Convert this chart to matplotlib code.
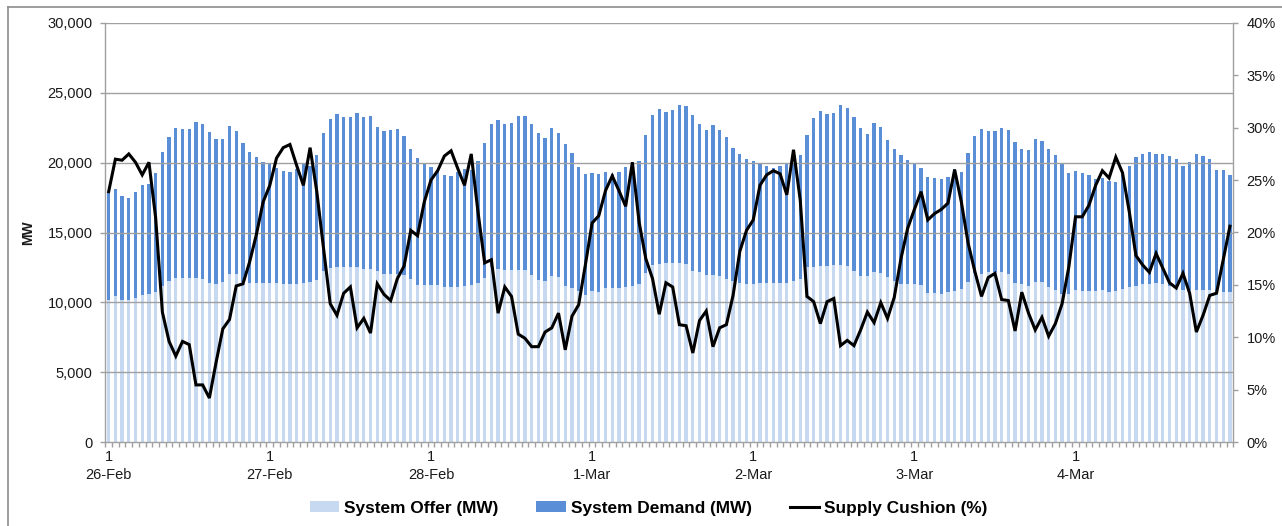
import matplotlib
matplotlib.use('Agg')
import matplotlib.pyplot as plt
import numpy as np
from matplotlib.lines import Line2D
from matplotlib.patches import Patch
from matplotlib.ticker import FuncFormatter

plt.rcParams['font.family'] = ['Liberation Sans', 'DejaVu Sans']

# ---------------- data ----------------
days = ['26-Feb', '27-Feb', '28-Feb', '1-Mar', '2-Mar', '3-Mar', '4-Mar']
hour_label = '1'

# light bars (System Offer, MW)
offer_mw = [
    10200, 10450, 10150, 10150, 10300, 10500, 10600, 10750, 11150, 11500, 11750, 11750,
    11750, 11750, 11700, 11370, 11300, 11480, 12050, 12000, 11450, 11360, 11380, 11380,
    11370, 11370, 11300, 11300, 11310, 11380, 11480, 11570, 12250, 12450, 12520, 12530,
    12550, 12520, 12400, 12380, 12230, 12030, 12000, 12000, 11980, 11650, 11265, 11265,
    11260, 11260, 11120, 11070, 11070, 11190, 11238, 11357, 11714, 12500, 12381, 12333,
    12333, 12333, 12333, 11976, 11595, 11500, 11905, 11833, 11190, 11024, 10833, 10548,
    10786, 10738, 11024, 11024, 11024, 11071, 11190, 11310, 12071, 12690, 12730, 12810,
    12786, 12810, 12738, 12262, 12143, 11976, 11952, 11857, 11667, 11548, 11357, 11310,
    11310, 11357, 11357, 11357, 11357, 11381, 11500, 11667, 12500, 12548, 12619, 12619,
    12667, 12690, 12619, 12262, 11905, 11857, 12143, 12095, 11786, 11548, 11310, 11310,
    11310, 11238, 10667, 10667, 10595, 10714, 10786, 10952, 11476, 12071, 12024, 12143,
    12143, 12143, 12024, 11381, 11310, 11180, 11476, 11429, 11119, 10881, 10595, 10595,
    10905, 10833, 10833, 10833, 10905, 10714, 10786, 10976, 11119, 11190, 11310, 11310,
    11357, 11310, 11190, 11119, 10905, 10881, 10905, 10881, 10881, 10714, 10714, 10714,
]

# top of the dark bars (System Demand, MW)
demand_top_mw = [
    17930, 18100, 17620, 17500, 17930, 18380, 18450, 19230, 20730, 21870, 22500, 22380,
    22380, 22930, 22800, 22230, 21680, 21680, 22630, 22270, 21430, 20790, 20400, 20070,
    19880, 19600, 19400, 19330, 19520, 19930, 19760, 20520, 22100, 23100, 23500, 23240,
    23290, 23570, 23290, 23330, 22550, 22240, 22330, 22380, 21890, 20950, 20300, 20000,
    19680, 19400, 19130, 19060, 19300, 19570, 19450, 20120, 21380, 22740, 23020, 22790,
    22860, 23330, 23330, 22790, 22140, 21740, 22500, 22140, 21330, 20670, 19710, 19210,
    19290, 19170, 19330, 19210, 19330, 19680, 20050, 20140, 21980, 23380, 23810, 23630,
    23740, 24130, 24040, 23380, 22790, 22330, 22730, 22320, 21830, 21020, 20590, 20290,
    20120, 19880, 19790, 19650, 19790, 20000, 20000, 20520, 21950, 23210, 23690, 23510,
    23570, 24140, 23890, 23290, 22500, 22070, 22830, 22570, 21620, 20950, 20570, 20210,
    20000, 19640, 18980, 18900, 18810, 18950, 19520, 19330, 20670, 21900, 22380, 22240,
    22260, 22500, 22330, 21480, 20980, 20940, 21690, 21540, 21010, 20520, 19880, 19270,
    19370, 19290, 19120, 18860, 18880, 18680, 18610, 19200, 19740, 20380, 20640, 20770,
    20600, 20600, 20480, 20230, 19760, 20080, 20640, 20450, 20230, 19480, 19440, 19140,
]

# Supply Cushion (%)
cushion_pct = [
    23.9, 27.0, 26.9, 27.5, 26.7, 25.5, 26.7, 21.4, 12.4, 9.6, 8.2, 9.6,
    9.3, 5.45, 5.45, 4.2, 7.6, 10.8, 11.7, 14.9, 15.1, 17.2, 19.8, 22.9,
    24.5, 27.1, 28.1, 28.4, 26.4, 24.5, 28.1, 23.9, 18.5, 13.2, 12.1, 14.2,
    14.8, 10.9, 11.8, 10.4, 15.1, 14.1, 13.5, 15.6, 16.8, 20.2, 19.7, 22.9,
    25.0, 25.9, 27.3, 27.8, 26.1, 24.5, 27.5, 22.0, 17.1, 17.4, 12.3, 14.8,
    13.9, 10.3, 9.9, 9.1, 9.1, 10.5, 10.9, 12.3, 8.8, 12.0, 13.1, 16.9,
    20.9, 21.6, 24.0, 25.4, 24.0, 22.5, 26.7, 21.0, 17.5, 15.6, 12.2, 15.2,
    14.8, 11.2, 11.1, 8.5, 11.6, 12.5, 9.1, 10.9, 11.2, 14.0, 18.2, 20.2,
    21.2, 24.5, 25.5, 25.9, 25.6, 23.6, 27.9, 23.1, 13.9, 13.4, 11.3, 13.4,
    13.7, 9.2, 9.7, 9.2, 10.7, 12.4, 11.4, 13.3, 11.8, 13.8, 17.5, 20.4,
    22.2, 23.9, 21.2, 21.8, 22.2, 22.8, 26.0, 22.9, 19.0, 16.3, 13.9, 15.7,
    16.1, 13.6, 13.5, 10.6, 14.3, 12.3, 10.7, 11.9, 10.1, 11.3, 13.2, 16.7,
    21.5, 21.5, 22.6, 24.5, 25.9, 25.2, 27.2, 25.7, 22.0, 17.8, 16.9, 16.2,
    18.0, 16.6, 15.2, 14.7, 16.1, 14.2, 10.5, 12.1, 14.0, 14.2, 17.4, 20.6,
]

legend_labels = ['System Offer (MW)', 'System Demand (MW)', 'Supply Cushion (%)']

# ---------------- style ----------------
DARK = '#5A8ED6'
LIGHT = '#C6D9F1'
GRID = '#A0A0A0'
TXT = '#1A1A1A'

n = len(offer_mw)
x = np.arange(n)
hours_per_day = n // len(days)

fig = plt.figure(figsize=(12.82, 5.26), dpi=100)
ax = fig.add_axes([105.3 / 1282, 1 - 442 / 526, 1128 / 1282, 419 / 526])

ax.bar(x, demand_top_mw, width=0.5, color=DARK, zorder=2, linewidth=0)
ax.bar(x, offer_mw, width=0.5, color=LIGHT, zorder=3, linewidth=0)

ax.set_xlim(-0.5, n - 0.5)
ax.set_ylim(0, 30000)
yt = np.arange(0, 30001, 5000)
ax.set_yticks(yt)
ax.yaxis.set_major_formatter(FuncFormatter(lambda v, p: f'{v:,.0f}'))
for v in yt[1:]:
    ax.axhline(v, color=GRID, lw=1.0, zorder=4)

for s in ['top', 'right']:
    ax.spines[s].set_visible(False)
for s in ['left', 'bottom']:
    ax.spines[s].set_color(GRID)
    ax.spines[s].set_linewidth(1.0)
    ax.spines[s].set_zorder(5)

ax.tick_params(axis='y', length=3.6, width=1, color=GRID, pad=5.5,
               labelsize=10.5, labelcolor=TXT)

# x ticks: minor at bar boundaries, major labels at the first hour of each day
ax.set_xticks(np.arange(-0.5, n, 1), minor=True)
ax.set_xticks(np.arange(0, n, hours_per_day))
ax.set_xticklabels([f'{hour_label}\n{d}' for d in days], linespacing=1.3)
ax.tick_params(axis='x', which='minor', length=3.5, width=1, color=GRID)
ax.tick_params(axis='x', which='major', length=0, pad=6, labelsize=10.5, labelcolor=TXT)

ax.set_ylabel('MW', fontweight='bold', fontsize=10, color=TXT)
ax.yaxis.set_label_coords(-0.0623, 0.5)

ax2 = ax.twinx()
ax2.plot(x, cushion_pct, color='black', lw=2.2, zorder=6, solid_joinstyle='miter')
ax2.set_ylim(0, 40)
ax2.set_yticks(np.arange(0, 41, 5))
ax2.yaxis.set_major_formatter(FuncFormatter(lambda v, p: f'{v:.0f}%'))
for s in ['top', 'left', 'bottom']:
    ax2.spines[s].set_visible(False)
ax2.spines['right'].set_color(GRID)
ax2.spines['right'].set_linewidth(1.0)
ax2.tick_params(axis='y', length=3.6, width=1, color=GRID, pad=6,
                labelsize=10.5, labelcolor=TXT)

handles = [Patch(facecolor=LIGHT, edgecolor='none'),
           Patch(facecolor=DARK, edgecolor='none'),
           Line2D([0], [0], color='black', lw=2.2)]
fig.legend(handles, legend_labels, loc='center', bbox_to_anchor=(0.506, 1 - 508 / 526),
           ncol=3, frameon=False, prop={'weight': 'bold', 'size': 12.4},
           handlelength=1.7, handleheight=0.65, handletextpad=0.3, columnspacing=2.2)

# outer frame (top and left edges visible in the crop)
fig.add_artist(Line2D([8 / 1282, 1], [1 - 7 / 526, 1 - 7 / 526], color='#8C8C8C', lw=1.2))
fig.add_artist(Line2D([8 / 1282, 8 / 1282], [0, 1 - 7 / 526], color='#8C8C8C', lw=1.2))

fig.savefig('out.png', dpi=100)
